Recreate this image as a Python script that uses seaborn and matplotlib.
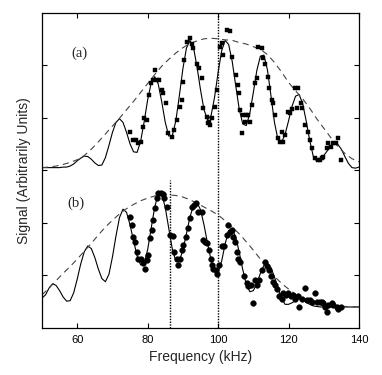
import numpy as np
import pandas as pd
import matplotlib
matplotlib.use("Agg")
import matplotlib.pyplot as plt
import seaborn as sns

# ---------------- data ----------------
freq_grid = list(range(50, 141))

# solid fit curve, trace (a)
fit_a = [3.05, 3.05, 3.05, 3.05, 3.05, 3.05, 3.06, 3.06, 3.08, 3.12,
         3.18, 3.23, 3.27, 3.26, 3.21, 3.14, 3.09, 3.10, 3.24, 3.47,
         3.72, 3.91, 3.98, 3.91, 3.72, 3.50, 3.35, 3.34, 3.55, 3.92,
         4.34, 4.66, 4.78, 4.64, 4.30, 3.91, 3.65, 3.66, 3.94, 4.42,
         4.93, 5.32, 5.47, 5.34, 4.97, 4.53, 4.15, 3.96, 4.04, 4.39,
         4.86, 5.27, 5.47, 5.39, 5.07, 4.61, 4.16, 3.88, 3.85, 4.08,
         4.48, 4.90, 5.17, 5.19, 4.91, 4.42, 3.91, 3.58, 3.53, 3.68,
         3.94, 4.22, 4.41, 4.44, 4.27, 3.94, 3.57, 3.27, 3.17, 3.20,
         3.28, 3.37, 3.46, 3.51, 3.49, 3.40, 3.26, 3.13, 3.05, 3.04,
         3.06]

# solid fit curve, trace (b)
fit_b = [0.57, 0.63, 0.76, 0.84, 0.81, 0.71, 0.59, 0.51, 0.52, 0.67,
         0.93, 1.22, 1.45, 1.56, 1.51, 1.34, 1.12, 0.94, 0.88, 1.02,
         1.35, 1.75, 2.10, 2.26, 2.20, 1.96, 1.66, 1.37, 1.20, 1.23,
         1.49, 1.90, 2.30, 2.55, 2.55, 2.29, 1.89, 1.50, 1.27, 1.28,
         1.48, 1.79, 2.11, 2.33, 2.39, 2.25, 1.96, 1.61, 1.29, 1.07,
         1.06, 1.27, 1.60, 1.85, 1.89, 1.73, 1.44, 1.11, 0.83, 0.69,
         0.71, 0.85, 1.04, 1.19, 1.23, 1.15, 0.97, 0.76, 0.57, 0.45,
         0.45, 0.48, 0.52, 0.56, 0.54, 0.49, 0.45, 0.42, 0.41, 0.40,
         0.40, 0.40, 0.40, 0.40, 0.40, 0.40, 0.40, 0.40, 0.40, 0.40,
         0.40]

# dashed envelopes
env_x = list(range(50, 141, 2))
env_a = [3.05, 3.06, 3.08, 3.11, 3.15, 3.20, 3.28, 3.40, 3.54, 3.69,
         3.84, 3.99, 4.15, 4.31, 4.48, 4.65, 4.82, 4.98, 5.11, 5.23,
         5.33, 5.41, 5.46, 5.50, 5.51, 5.50, 5.48, 5.47, 5.43, 5.40,
         5.35, 5.30, 5.20, 5.05, 4.87, 4.67, 4.51, 4.36, 4.18, 3.98,
         3.80, 3.62, 3.45, 3.32, 3.22, 3.16]
env_b = [0.63, 0.76, 0.90, 1.04, 1.17, 1.31, 1.46, 1.61, 1.77, 1.92,
         2.05, 2.17, 2.27, 2.35, 2.42, 2.47, 2.51, 2.53, 2.53, 2.52,
         2.49, 2.44, 2.37, 2.30, 2.23, 2.15, 2.04, 1.92, 1.79, 1.64,
         1.48, 1.31, 1.14, 0.98, 0.85, 0.74, 0.64, 0.56, 0.50, 0.46,
         0.44, 0.43, 0.42, 0.41, 0.40, 0.40]

# measured points, trace (a) (squares)
pts_a_x = [75.0, 75.9, 76.7, 77.3, 78.0, 78.6, 79.0, 79.7, 80.5, 80.9,
           81.4, 82.1, 82.6, 83.3, 84.0, 84.4, 85.1, 85.9, 86.8, 87.5,
           88.4, 89.2, 89.7, 90.1, 90.4, 91.1, 92.0, 92.5, 92.8, 94.1,
           94.7, 95.3, 95.8, 96.8, 97.0, 97.5, 97.7, 98.2, 99.1, 99.6,
           100.5, 101.0, 101.4, 102.6, 103.4, 103.9, 105.0, 105.6, 105.9, 106.2,
           106.7, 107.2, 107.6, 107.8, 108.6, 109.1, 109.5, 110.5, 111.0, 111.4,
           112.4, 112.8, 113.3, 114.3, 114.5, 115.2, 115.7, 116.2, 116.9, 117.6,
           118.0, 118.5, 119.0, 119.8, 120.4, 121.1, 121.8, 122.3, 122.8, 123.5,
           123.9, 124.7, 125.6, 126.1, 126.6, 127.5, 128.5, 128.9, 129.4, 129.9,
           130.8, 131.3, 132.1, 132.7, 133.4, 134.1, 134.9]
pts_a_y = [3.73, 3.57, 3.57, 3.51, 3.54, 3.83, 4.00, 3.95, 4.43, 4.65,
           4.71, 4.90, 4.71, 4.71, 4.52, 4.46, 4.27, 3.70, 3.64, 3.76,
           3.95, 4.21, 4.33, 4.68, 5.10, 5.44, 5.51, 5.41, 5.32, 5.03,
           4.94, 4.75, 4.18, 4.02, 3.89, 3.92, 3.86, 3.99, 4.21, 4.52,
           5.35, 5.42, 5.20, 5.66, 5.64, 5.16, 4.81, 4.63, 4.46, 4.14,
           3.70, 4.05, 3.92, 4.05, 4.06, 3.92, 4.24, 4.65, 4.75, 5.34,
           5.33, 5.13, 5.03, 4.78, 4.56, 4.33, 4.27, 4.05, 3.61, 3.54,
           3.73, 3.54, 3.67, 4.10, 4.08, 4.16, 4.56, 4.18, 4.56, 4.27,
           4.18, 3.86, 3.73, 3.57, 3.42, 3.23, 3.19, 3.19, 3.23, 3.26,
           3.42, 3.51, 3.45, 3.51, 3.51, 3.61, 3.19]

# measured points, trace (b) (circles)
pts_b_x = [75.0, 75.5, 75.9, 76.4, 76.9, 77.3, 78.0, 78.6, 79.2, 79.7,
           80.2, 80.7, 81.1, 81.6, 82.1, 82.6, 83.0, 83.7, 84.3, 84.7,
           85.4, 86.3, 87.1, 87.5, 88.2, 88.7, 89.2, 89.7, 90.1, 90.9,
           91.5, 92.0, 92.5, 93.2, 93.7, 94.4, 95.3, 95.6, 96.3, 96.9,
           97.5, 97.9, 98.3, 98.6, 99.4, 99.8, 100.3, 101.0, 101.7, 102.4,
           102.9, 103.4, 103.9, 104.3, 104.8, 105.3, 105.7, 106.2, 107.4, 108.1,
           108.6, 109.2, 109.8, 110.5, 111.1, 111.7, 112.4, 113.3, 113.8, 114.5,
           114.9, 115.5, 116.2, 116.6, 117.4, 118.1, 118.5, 119.3, 119.9, 120.6,
           121.4, 121.8, 122.6, 123.1, 123.7, 124.7, 125.2, 126.1, 126.6, 127.5,
           128.0, 128.9, 129.4, 129.9, 130.4, 130.8, 131.3, 132.3, 132.7, 133.7,
           134.1, 134.8]
pts_b_y = [2.12, 1.96, 1.74, 1.64, 1.45, 1.32, 1.32, 1.23, 1.13, 1.29,
           1.39, 1.71, 1.86, 2.05, 2.28, 2.47, 2.57, 2.57, 2.55, 2.47,
           2.31, 1.77, 1.75, 1.45, 1.32, 1.20, 1.32, 1.48, 1.58, 1.74,
           1.90, 2.09, 2.31, 2.34, 2.37, 2.21, 2.21, 1.67, 1.64, 1.61,
           1.48, 1.32, 1.20, 1.13, 1.10, 1.02, 1.20, 1.55, 1.55, 1.77,
           1.96, 1.83, 1.86, 1.74, 1.64, 1.45, 1.32, 1.26, 0.98, 0.85,
           0.79, 0.82, 0.47, 0.91, 0.82, 0.91, 1.10, 1.26, 1.17, 1.10,
           0.98, 0.88, 0.82, 0.75, 0.60, 0.56, 0.66, 0.63, 0.66, 0.60,
           0.63, 0.56, 0.60, 0.40, 0.56, 0.77, 0.53, 0.53, 0.50, 0.66,
           0.50, 0.50, 0.50, 0.47, 0.40, 0.30, 0.44, 0.47, 0.44, 0.40,
           0.37, 0.40]

x_ticks = [60, 80, 100, 120, 140]
y_ticks = [1, 2, 3, 4, 5]
marker_lines = [(100, 0.0, 6.0), (86.2, 0.0, 2.81)]
panel_labels = [("(a)", 60.5, 5.23), ("(b)", 59.7, 2.38)]

# ---------------- plotting ----------------
sns.set_theme(style="ticks")
plt.rcParams['font.family'] = ['Liberation Sans', 'DejaVu Sans']

fig = plt.figure(figsize=(3.82, 3.75), dpi=100)
ax = fig.add_axes([42/382, 47/375, 317/382, 315.5/375])

df_fit = pd.DataFrame({"f": freq_grid, "a": fit_a, "b": fit_b})
df_env = pd.DataFrame({"f": env_x, "a": env_a, "b": env_b})

for col in ["a", "b"]:
    sns.lineplot(data=df_fit, x="f", y=col, ax=ax, color="black",
                 linewidth=0.8, estimator=None, sort=True)
    sns.lineplot(data=df_env, x="f", y=col, ax=ax, color="#444444",
                 linewidth=0.8, estimator=None, sort=True,
                 linestyle=(0, (5.5, 4.0)))

sns.scatterplot(x=pts_a_x, y=pts_a_y, ax=ax, marker="s", s=11,
                color="black", edgecolor="black", linewidth=0.3, zorder=3)
sns.scatterplot(x=pts_b_x, y=pts_b_y, ax=ax, marker="o", s=17,
                color="black", edgecolor="black", linewidth=0.3, zorder=3)

for xv, y0, y1 in marker_lines:
    ax.plot([xv, xv], [y0, y1], color="black", linewidth=1.0,
            linestyle=(0, (1, 1)), zorder=2)

for txt, xv, yv in panel_labels:
    ax.text(xv, yv, txt, ha="center", va="center", fontsize=10.5,
            family=["Liberation Serif", "DejaVu Serif"])

ax.set_xlim(50, 140)
ax.set_ylim(0, 6)
ax.set_xticks(x_ticks)
ax.set_xticklabels([str(t) for t in x_ticks])
ax.set_yticks(y_ticks)
ax.set_yticklabels([])
ax.tick_params(axis="both", direction="in", length=3.5, width=0.8,
               top=True, right=True, colors="black", labelsize=8, pad=5)
ax.tick_params(axis="y", labelleft=False)
for sp in ax.spines.values():
    sp.set_visible(True)
    sp.set_linewidth(0.9)
    sp.set_color("black")

ax.set_xlabel("Frequency (kHz)", fontsize=10, labelpad=4)
ax.set_ylabel("Signal (Arbitrarily Units)", fontsize=10)
ax.yaxis.set_label_coords(-0.035, 0.5)

fig.savefig("out.png", dpi=100, facecolor="white")
